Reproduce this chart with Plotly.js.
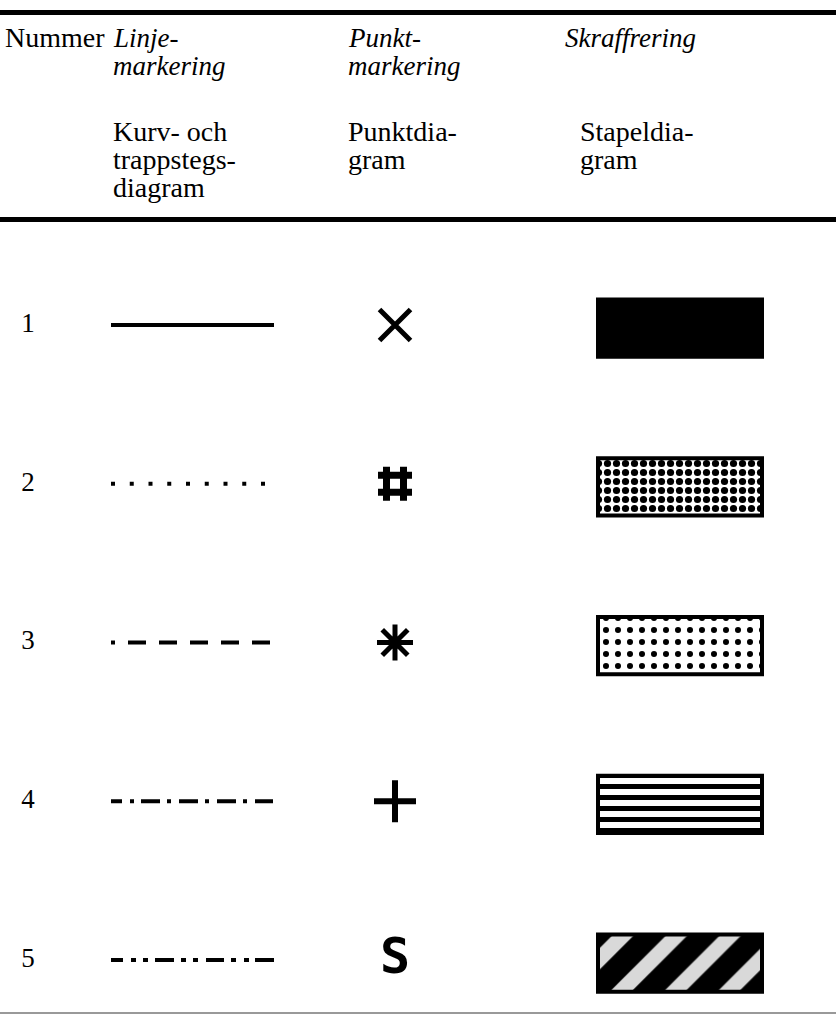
<!DOCTYPE html>
<html>
<head>
<meta charset="utf-8">
<script src="https://cdn.plot.ly/plotly-3.0.1.min.js"></script>
<style>
  html, body { margin: 0; padding: 0; background: #fff; }
  #myDiv { width: 836px; height: 1021px; }
</style>
</head>
<body>
<div id="myDiv"></div>
<script>
// table rows
var rows = [1, 2, 3, 4, 5];

// header text, one list of lines per column
var headTop = [['Nummer'], ['Linje-', 'markering'], ['Punkt-', 'markering'], ['Skraffrering']];
var headBottom = [[], ['Kurv- och', 'trappstegs-', 'diagram'], ['Punktdia-', 'gram'], ['Stapeldia-', 'gram']];
var headItalic = [false, true, true, true];

// line markings (dash lists in px)
var lineDash = [
  'solid',
  '4px,14.75px',
  '4px,13px,18px,13px,18px,13px,18px,13px,18px,13px,18px,13px',
  '11px,8px,4px,7px,19px,7px,4px,8px,19px,7px,4px,8px,19px,7px,4px,8px,18px,8px',
  '12px,8px,5px,7px,5px,7px,19px,7px,5px,7px,5px,8px,18px,7px,5px,8px,5px,6px,19px,8px'
];

// point markings
var pointSymbols = ['x-thin-open', 'hash-open', 'asterisk-open', 'cross-thin-open', 'S'];
var pointSize = [31, 34, 30, 30, 0];
var pointWidth = [5, 7, 5, 6, 0];

// hatching for the bars
var hatchShape = ['', '.', '.', '-', '/'];
var hatchFg = ['black', 'black', 'black', 'black', 'white'];
var hatchBg = ['black', 'white', 'white', 'white', 'black'];
var hatchSize = [8, 9, 12, 11, 38];
var hatchSolidity = [0.3, 0.5, 0.2, 0.45, 0.4];
var hatchFgOpacity = [1, 1, 1, 1, 0.85];

// layout constants
var col = {num: 28, lineFrom: 111, lineTo: 274, point: 395, barFrom: 598, barLen: 164};
var rowPx0 = 325, rowStep = 158.75, H = 1021, W = 836;
var serif = 'Liberation Serif';

function py(px) { return 1 - px / H; }

var data = [];

rows.forEach(function (r, i) {
  data.push({
    type: 'scatter', mode: 'lines',
    x: [col.lineFrom, col.lineTo], y: [r, r],
    line: {color: 'black', width: 4, dash: lineDash[i]},
    hoverinfo: 'skip'
  });

  var s = pointSymbols[i];
  if (s.length === 1) {
    data.push({
      type: 'scatter', mode: 'text',
      x: [col.point], y: [r], text: [s], textposition: 'middle center',
      textfont: {family: 'DejaVu Sans Mono', size: 50, color: 'black', weight: 'bold'}
    });
  } else {
    data.push({
      type: 'scatter', mode: 'markers',
      x: [col.point], y: [r],
      marker: {
        symbol: s, color: 'black', size: pointSize[i], opacity: 1,
        line: {color: 'black', width: pointWidth[i]}
      }
    });
  }

  data.push({
    type: 'bar', orientation: 'h',
    y: [r + 0.02], x: [col.barLen], base: col.barFrom, width: 0.36,
    marker: {
      color: hatchBg[i],
      line: {color: 'black', width: 4},
      pattern: {
        shape: hatchShape[i], fgcolor: hatchFg[i], bgcolor: hatchBg[i],
        fgopacity: hatchFgOpacity[i],
        size: hatchSize[i], solidity: hatchSolidity[i], fillmode: 'replace'
      }
    }
  });
});

data.push({
  type: 'scatter', mode: 'text',
  x: rows.map(function () { return col.num; }), y: rows,
  text: rows.map(String), textposition: 'middle center',
  textfont: {family: serif, size: 27, color: 'black'}
});

var annotations = [];
var colX = [3, 111, 346, 563], colX2 = [3, 111, 346, 578];
function addLines(lines, x, startPx, italic) {
  lines.forEach(function (t, k) {
    annotations.push({
      xref: 'x', yref: 'paper', x: x, y: py(startPx + k * 27.5),
      xanchor: 'left', yanchor: 'middle', showarrow: false,
      text: t,
      font: {family: serif, size: italic ? 27 : 28, color: 'black', style: italic ? 'italic' : 'normal'}
    });
  });
}
headTop.forEach(function (lines, c) { addLines(lines, colX[c], 38, headItalic[c]); });
headBottom.forEach(function (lines, c) { addLines(lines, colX2[c], 132, false); });

var layout = {
  width: W, height: H,
  margin: {l: 0, r: 0, t: 0, b: 0},
  paper_bgcolor: 'white', plot_bgcolor: 'white',
  showlegend: false,
  font: {family: serif},
  xaxis: {range: [0, W], visible: false, fixedrange: true},
  yaxis: {range: [1 + (H - rowPx0) / rowStep, 1 - rowPx0 / rowStep], visible: false, fixedrange: true},
  barmode: 'overlay',
  annotations: annotations,
  shapes: [
    {type: 'line', xref: 'x', yref: 'paper', x0: 0, x1: W, y0: py(12.5), y1: py(12.5), line: {color: 'black', width: 5}},
    {type: 'line', xref: 'x', yref: 'paper', x0: 0, x1: W, y0: py(219.5), y1: py(219.5), line: {color: 'black', width: 5}},
    {type: 'line', xref: 'x', yref: 'paper', x0: 0, x1: W, y0: py(1013), y1: py(1013), line: {color: '#999', width: 2}}
  ]
};

Plotly.newPlot('myDiv', data, layout, {staticPlot: true, displayModeBar: false});
</script>
</body>
</html>
